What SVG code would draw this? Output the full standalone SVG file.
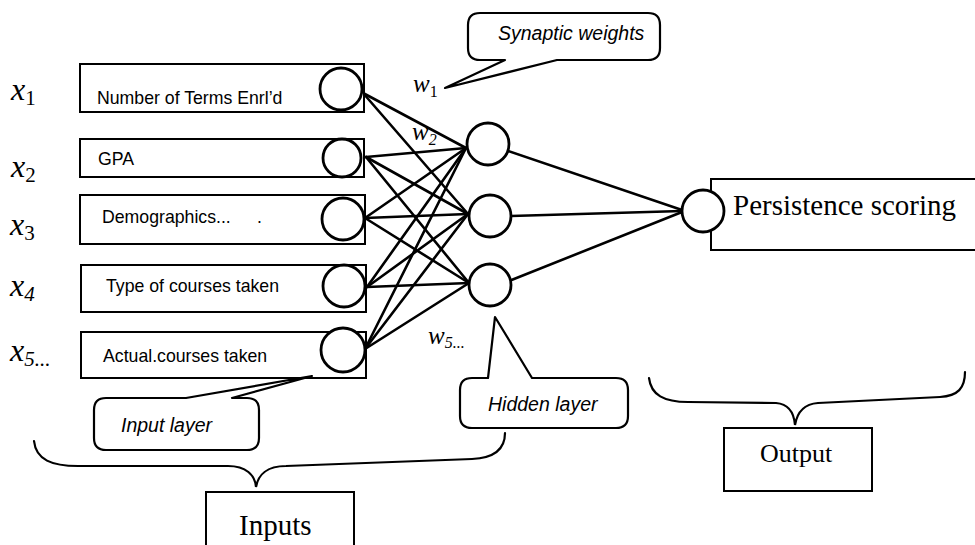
<svg xmlns="http://www.w3.org/2000/svg" width="975" height="545" viewBox="0 0 975 545">
<style>
.box{fill:#fff;stroke:#000;stroke-width:2}
.neuron{fill:#fff;stroke:#000;stroke-width:2.8}
.edge{stroke:#000;stroke-width:2.6;fill:none;stroke-linecap:round}
.callout{fill:#fff;stroke:#000;stroke-width:2.2;stroke-linejoin:round}
.brace{fill:none;stroke:#000;stroke-width:2.2;stroke-linecap:round}
.lbl{font-family:"Liberation Sans",Arial,sans-serif;font-size:17.7px;fill:#000}
.note{font-family:"Liberation Sans",Arial,sans-serif;font-style:italic;font-size:19.5px;fill:#000}
.var{font-family:"Liberation Serif","Times New Roman",serif;font-style:italic;font-size:32px;fill:#000}
.sub{font-size:21px;font-style:normal}
.subi{font-size:21px;font-style:italic}
.w{font-family:"Liberation Serif","Times New Roman",serif;font-style:italic;font-size:25px;fill:#000}
.wsub{font-size:16px;font-style:normal}
.big{font-family:"Liberation Serif","Times New Roman",serif;font-size:29px;fill:#000}
</style>

<g id="connectors">
  <!-- input to hidden -->
  <line class="edge" x1="363" y1="93" x2="466" y2="148"/>
  <line class="edge" x1="363" y1="93" x2="468" y2="214"/>
  <line class="edge" x1="366" y1="157" x2="466" y2="148"/>
  <line class="edge" x1="366" y1="157" x2="468" y2="214"/>
  <line class="edge" x1="366" y1="157" x2="469" y2="283"/>
  <line class="edge" x1="365" y1="218" x2="466" y2="148"/>
  <line class="edge" x1="365" y1="218" x2="468" y2="214"/>
  <line class="edge" x1="365" y1="218" x2="469" y2="283"/>
  <line class="edge" x1="367" y1="287" x2="466" y2="148"/>
  <line class="edge" x1="367" y1="287" x2="468" y2="214"/>
  <line class="edge" x1="367" y1="287" x2="469" y2="283"/>
  <line class="edge" x1="365" y1="349" x2="466" y2="148"/>
  <line class="edge" x1="365" y1="349" x2="468" y2="214"/>
  <line class="edge" x1="365" y1="349" x2="469" y2="283"/>
  <!-- hidden to output -->
  <line class="edge" x1="508" y1="151" x2="682" y2="210"/>
  <line class="edge" x1="511" y1="216" x2="682" y2="211"/>
  <line class="edge" x1="509" y1="281" x2="682" y2="212"/>
</g>

<g id="in1">
  <rect class="box" x="80" y="64" width="284" height="48"/>
  <circle class="neuron" cx="341" cy="89" r="21"/>
  <text class="lbl" x="97" y="104">Number of Terms Enrl’d</text>
  <text class="var" x="11" y="100">x<tspan class="sub" dy="5">1</tspan></text>
</g>
<g id="in2">
  <rect class="box" x="80" y="139" width="284" height="38"/>
  <circle class="neuron" cx="342" cy="158" r="19"/>
  <text class="lbl" x="98" y="165">GPA</text>
  <text class="var" x="11" y="177">x<tspan class="sub" dy="5">2</tspan></text>
</g>
<g id="in3">
  <rect class="box" x="80" y="195" width="285" height="49"/>
  <circle class="neuron" cx="343" cy="219" r="21"/>
  <text class="lbl" x="102" y="223">Demographics...<tspan x="257">.</tspan></text>
  <text class="var" x="10" y="235">x<tspan class="sub" dy="5">3</tspan></text>
</g>
<g id="in4">
  <rect class="box" x="81" y="265" width="285" height="47"/>
  <circle class="neuron" cx="344" cy="286" r="21"/>
  <text class="lbl" x="106" y="292">Type of courses taken</text>
  <text class="var" x="10" y="296">x<tspan class="subi" dy="5">4</tspan></text>
</g>
<g id="in5">
  <rect class="box" x="81" y="332" width="285" height="46"/>
  <circle class="neuron" cx="343" cy="350" r="22"/>
  <text class="lbl" x="103" y="362">Actual.courses taken</text>
  <text class="var" x="10" y="361">x<tspan class="subi" dy="5">5...</tspan></text>
</g>

<g id="hidden1"><circle class="neuron" cx="488" cy="144" r="21"/></g>
<g id="hidden2"><circle class="neuron" cx="490" cy="216" r="21"/></g>
<g id="hidden3"><circle class="neuron" cx="490" cy="285" r="21"/></g>

<g id="output-node">
  <rect class="box" x="711" y="179" width="275" height="71"/>
  <circle class="neuron" cx="703" cy="211" r="21"/>
  <text class="big" x="733" y="215">Persistence scoring</text>
</g>

<g id="weights">
  <text class="w" x="413" y="92">w<tspan class="wsub" dy="5">1</tspan></text>
  <text class="w" x="412" y="140">w<tspan class="wsub" dy="5" style="font-style:italic">2</tspan></text>
  <text class="w" x="428" y="344">w<tspan class="wsub" dy="4" style="font-style:italic">5...</tspan></text>
</g>

<g id="synaptic-callout">
  <path class="callout" d="M480,13 L648,13 Q660,13 660,25 L660,48 Q660,60 648,60 L557,60 L445,88 L505,60 L480,60 Q468,60 468,48 L468,25 Q468,13 480,13 Z"/>
  <text class="note" x="498" y="40">Synaptic weights</text>
</g>

<g id="input-layer-callout">
  <path class="callout" d="M106,398 L186,398 L312,376 L232,398 L247,398 Q259,398 259,410 L259,438 Q259,450 247,450 L106,450 Q94,450 94,438 L94,410 Q94,398 106,398 Z"/>
  <text class="note" x="121" y="432">Input layer</text>
</g>

<g id="hidden-layer-callout">
  <path class="callout" d="M472,378 L488,378 L495,317 L532,378 L616,378 Q628,378 628,390 L628,416 Q628,428 616,428 L472,428 Q460,428 460,416 L460,390 Q460,378 472,378 Z"/>
  <text class="note" x="488" y="411">Hidden layer</text>
</g>

<g id="inputs-brace">
  <path class="brace" d="M34,441 C36,460 52,466 78,466 L228,466 C246,466 255,475 256,487 C258,475 267,466 286,466 L472,459 C494,458 505,450 505,433"/>
</g>
<g id="inputs">
  <rect class="box" x="206" y="492" width="148" height="70"/>
  <text class="big" x="239" y="535">Inputs</text>
</g>

<g id="output-brace">
  <path class="brace" d="M649,378 C651,395 664,402 688,402 L776,403 C789,404 794,413 795,425 C797,413 804,404 818,403 L940,397 C958,396 965,388 965,372"/>
</g>
<g id="output">
  <rect class="box" x="724" y="428" width="148" height="63"/>
  <text class="big" x="760" y="462" style="font-size:26px">Output</text>
</g>
</svg>
